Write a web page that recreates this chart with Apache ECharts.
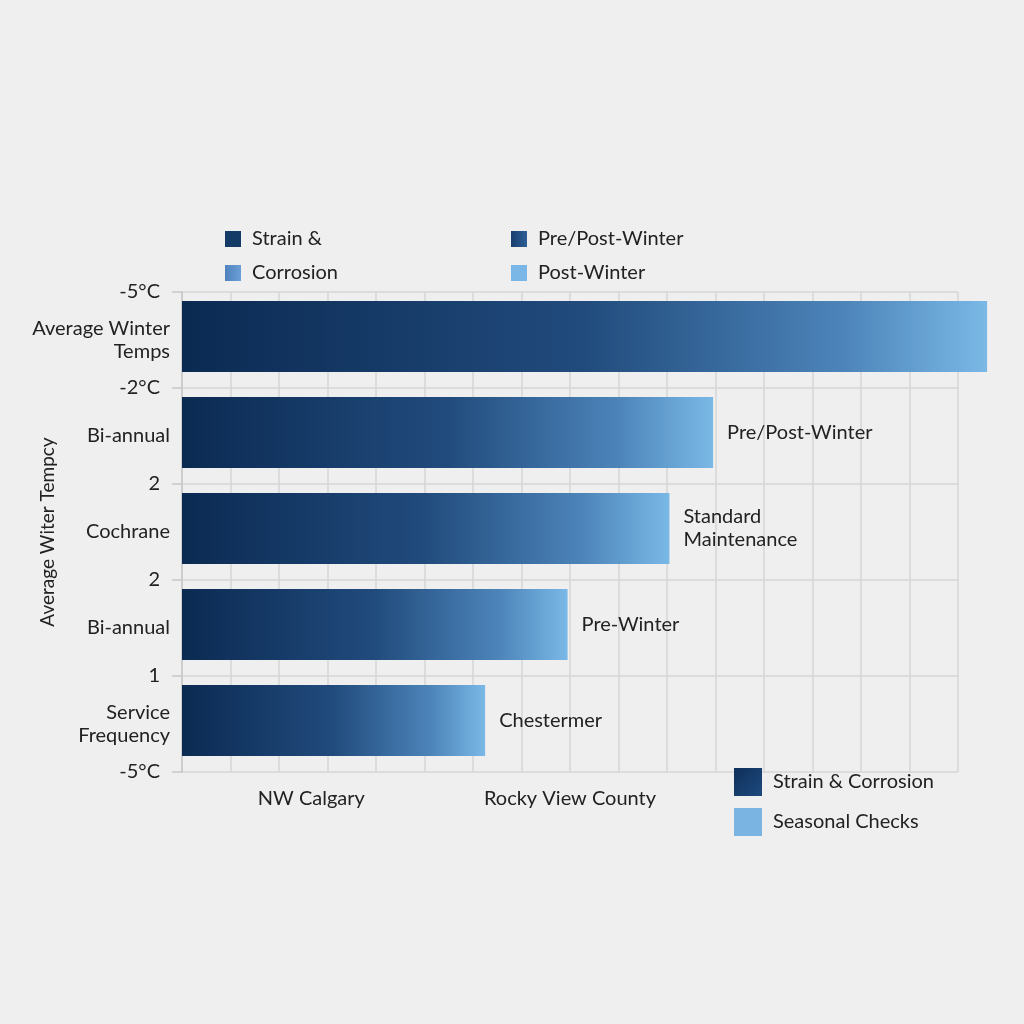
<!DOCTYPE html>
<html><head><meta charset="utf-8">
<script src="https://cdn.jsdelivr.net/npm/echarts@6/dist/echarts.min.js"></script>
<style>html,body{margin:0;padding:0;background:#efefef}#c{width:1024px;height:1024px}</style>
</head><body><div id="c"></div>
<script>
const categories = ["Average Winter\nTemps", "Bi-annual", "Cochrane", "Bi-annual", "Service\nFrequency"];
const values = [16.6, 10.95, 10.05, 7.95, 6.25];
const barLabels = ["", "Pre/Post-Winter", "Standard\nMaintenance", "Pre-Winter", "Chestermer"];
const tempTicks = ["-5°C", "1", "2", "2", "-2°C", "-5°C"]; // bottom to top
const regionLabels = ["NW Calgary", "Rocky View County", ""];
const topLegendA = ["Strain &", "Corrosion"];
const topLegendB = ["Pre/Post-Winter", "Post-Winter"];
const bottomLegend = ["Strain & Corrosion", "Seasonal Checks"];

const G = echarts.graphic;
const barGrad = new G.LinearGradient(0, 0, 1, 0, [
  {offset: 0, color: '#0b2a52'},
  {offset: 0.5, color: '#214b7d'},
  {offset: 0.82, color: '#4c84b9'},
  {offset: 1, color: '#7ab8e6'}
]);
const FONT = 'Lato, "Open Sans", sans-serif';
const TXT = '#222222';
const FS = 20;

const chart = echarts.init(document.getElementById('c'));
const legendColors = {
  "Strain &": '#143a68',
  "Corrosion": new G.LinearGradient(0, 0, 1, 0, [{offset: 0, color: '#4f82bd'}, {offset: 1, color: '#6c9fd6'}]),
  "Pre/Post-Winter": new G.LinearGradient(0, 0, 1, 0, [{offset: 0, color: '#173f6e'}, {offset: 1, color: '#2e5f96'}]),
  "Post-Winter": '#7ab6e6',
  "Strain & Corrosion": new G.LinearGradient(0, 0, 1, 1, [{offset: 0, color: '#0e2f5a'}, {offset: 1, color: '#1d4a7e'}]),
  "Seasonal Checks": '#7ab4e2'
};
const legendSeries = Object.keys(legendColors).map(n => ({
  name: n, type: 'bar', data: [], itemStyle: {color: legendColors[n]}
}));
const legText = {fontSize: FS, color: TXT, fontFamily: FONT, padding: [0, 0, 0, 6]};

chart.setOption({
  backgroundColor: '#efefef',
  animation: false,
  textStyle: {fontFamily: FONT, color: TXT},
  grid: {left: 182, right: 66, top: 292, bottom: 252, containLabel: false, outerBoundsMode: 'none'},
  legend: [
    {data: topLegendA, left: 220, top: 224, orient: 'vertical', itemWidth: 16, itemHeight: 16, itemGap: 14,
     textStyle: legText, icon: 'rect', selectedMode: false},
    {data: topLegendB, left: 506, top: 224, orient: 'vertical', itemWidth: 16, itemHeight: 16, itemGap: 14,
     textStyle: legText, icon: 'rect', selectedMode: false},
    {data: bottomLegend, left: 729, top: 763, orient: 'vertical', itemWidth: 28, itemHeight: 28, itemGap: 12,
     textStyle: legText, icon: 'rect', selectedMode: false}
  ],
  xAxis: [
    {type: 'value', min: 0, max: 16, interval: 1,
     axisLabel: {show: false}, axisLine: {show: false}, axisTick: {show: false},
     splitLine: {show: true, lineStyle: {color: '#d6d6d6', width: 1.5}}},
    {type: 'category', data: regionLabels, position: 'bottom',
     axisLine: {show: false}, axisTick: {show: false}, splitLine: {show: false},
     axisLabel: {margin: 17, fontSize: FS, color: TXT, fontFamily: FONT}}
  ],
  yAxis: [
    {type: 'category', data: categories, inverse: true,
     axisLine: {show: true, lineStyle: {color: '#c8c8c8', width: 1.5}},
     axisTick: {show: false}, splitLine: {show: false},
     axisLabel: {margin: 12, fontSize: FS, color: TXT, fontFamily: FONT, lineHeight: 23, align: 'right'},
     name: 'Average Witer Tempcy', nameLocation: 'middle', nameGap: 125, nameRotate: 90, nameMoveOverlap: false,
     nameTextStyle: {fontSize: 19, color: TXT, fontFamily: FONT}},
    {type: 'value', min: 0, max: 5, interval: 1, position: 'left',
     axisLine: {show: false},
     axisTick: {show: true, length: 10, lineStyle: {color: '#c8c8c8', width: 1.5}},
     splitLine: {show: true, lineStyle: {color: '#d6d6d6', width: 1.5}},
     axisLabel: {margin: 22, fontSize: FS, color: TXT, fontFamily: FONT,
       formatter: (v) => tempTicks[Math.round(v)]}}
  ],
  series: [
    {name: 'Service Frequency', type: 'bar', xAxisIndex: 0, yAxisIndex: 0, barWidth: 71, clip: false, z: 3,
     itemStyle: {color: barGrad},
     label: {show: true, position: 'right', distance: 14, fontSize: FS, color: TXT, fontFamily: FONT, lineHeight: 23,
       formatter: (p) => barLabels[p.dataIndex]},
     data: values}
  ].concat(legendSeries)
});
</script></body></html>
